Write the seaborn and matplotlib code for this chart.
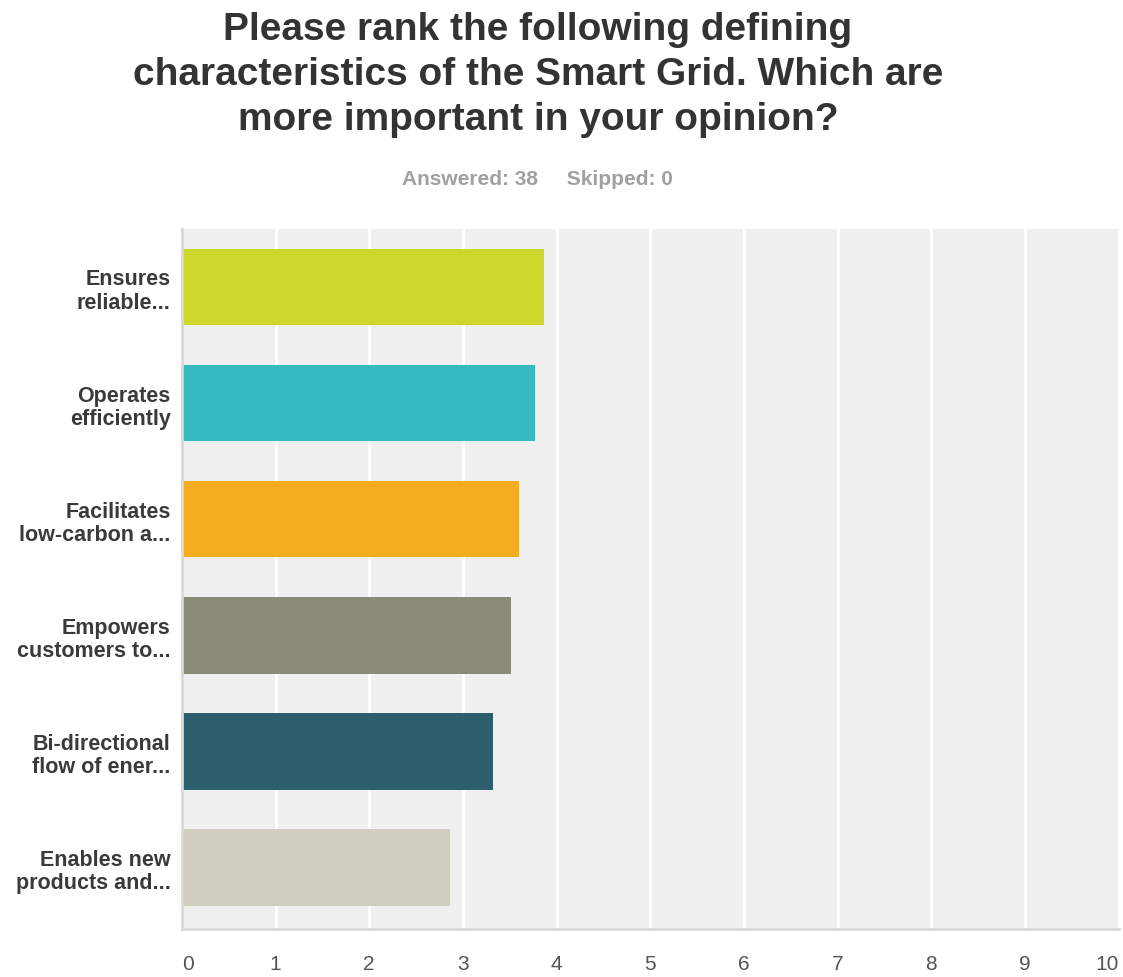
import matplotlib
matplotlib.use("Agg")
import matplotlib.pyplot as plt
import seaborn as sns
import pandas as pd

# Survey answer choices (truncated as displayed) and their average ranking scores
categories = [
    "Ensures\nreliable...",
    "Operates\nefficiently",
    "Facilitates\nlow-carbon a...",
    "Empowers\ncustomers to...",
    "Bi-directional\nflow of ener...",
    "Enables new\nproducts and...",
]
scores = [3.87, 3.77, 3.60, 3.51, 3.32, 2.86]
bar_colors = ["#CDD62A", "#35BBBF", "#F6AC1F", "#898A78", "#2D5E6B", "#CFCEBF"]
x_ticks = list(range(0, 11))

df = pd.DataFrame({"choice": categories, "score": scores})

sns.set_theme(style="white")
plt.rcParams["font.family"] = ["Liberation Sans", "DejaVu Sans"]

fig = plt.figure(figsize=(11.23, 9.78), dpi=100)
ax = fig.add_axes([0.162, 0.049, 0.834, 0.716])

sns.barplot(data=df, x="score", y="choice", hue="choice", palette=bar_colors,
            legend=False, width=0.66, saturation=1, linewidth=0, ax=ax, orient="h")

ax.set_facecolor("#F0F0F0")
ax.set_xlim(0, 10)
ax.set_ylim(5.53, -0.5)
ax.set_xticks(x_ticks)
ax.set_xticklabels([str(t) for t in x_ticks], fontsize=15, color="#555555")
xlabels = ax.get_xticklabels()
xlabels[0].set_ha("left")
xlabels[-1].set_ha("right")
ax.tick_params(axis="x", length=0, pad=18)
ax.tick_params(axis="y", length=0, pad=8)
for lbl in ax.get_yticklabels():
    lbl.set_fontsize(15.5)
    lbl.set_fontweight("bold")
    lbl.set_color("#3A3A3A")
    lbl.set_linespacing(1.15)
ax.set_xlabel("")
ax.set_ylabel("")
ax.xaxis.grid(True, color="white", linewidth=2.2)
ax.set_axisbelow(True)
for side in ["top", "right"]:
    ax.spines[side].set_visible(False)
ax.spines["left"].set_color("#D8D8D8")
ax.spines["left"].set_linewidth(2)
ax.spines["bottom"].set_color("#DADADA")
ax.spines["bottom"].set_linewidth(2)

fig.text(0.479, 0.988, "Please rank the following defining\ncharacteristics of the Smart Grid. Which are\nmore important in your opinion?",
         ha="center", va="top", fontsize=28, fontweight="bold", color="#333333", linespacing=1.33)
fig.text(0.479, 0.816, "Answered: 38     Skipped: 0", ha="center", va="center",
         fontsize=15, fontweight="bold", color="#A0A0A0")

fig.savefig("out.png", dpi=100, facecolor="white")
